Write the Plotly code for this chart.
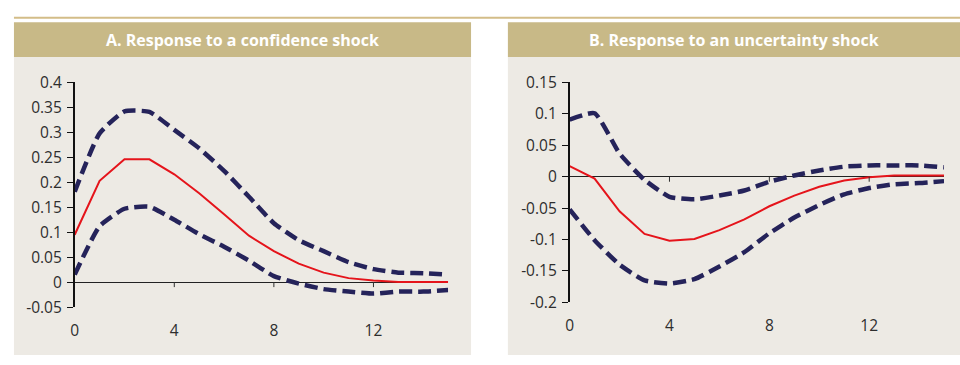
import plotly.graph_objects as go

# Quarters after the shock
horizon = list(range(16))

# Panel A: response to a confidence shock
conf_median = [0.095, 0.203, 0.246, 0.246, 0.216, 0.178, 0.136, 0.093, 0.062, 0.037,
               0.019, 0.008, 0.003, 0.0, 0.0, 0.0]
conf_upper = [0.181, 0.298, 0.342, 0.341, 0.305, 0.268, 0.223, 0.171, 0.118, 0.084,
              0.062, 0.040, 0.026, 0.019, 0.018, 0.015]
conf_lower = [0.015, 0.112, 0.147, 0.151, 0.125, 0.096, 0.071, 0.043, 0.012, -0.003,
              -0.014, -0.019, -0.023, -0.019, -0.019, -0.016]

# Panel B: response to an uncertainty shock
unc_median = [0.017, -0.003, -0.055, -0.091, -0.102, -0.099, -0.085, -0.068, -0.047, -0.030,
              -0.016, -0.006, -0.001, 0.002, 0.002, 0.002]
unc_upper = [0.091, 0.101, 0.037, -0.005, -0.032, -0.036, -0.030, -0.022, -0.008, 0.002,
             0.010, 0.016, 0.018, 0.018, 0.018, 0.015]
unc_lower = [-0.052, -0.101, -0.140, -0.165, -0.170, -0.163, -0.143, -0.120, -0.090, -0.065,
             -0.045, -0.028, -0.018, -0.012, -0.010, -0.007]

titles = ["A. Response to a confidence shock", "B. Response to an uncertainty shock"]
x_ticks = [0, 4, 8, 12]
a_ticks = [-0.05, 0, 0.05, 0.1, 0.15, 0.2, 0.25, 0.3, 0.35, 0.4]
a_tick_text = ["-0.05", "0", "0.05", "0.1", "0.15", "0.2", "0.25", "0.3", "0.35", "0.4"]
b_ticks = [-0.2, -0.15, -0.1, -0.05, 0, 0.05, 0.1, 0.15]
b_tick_text = ["-0.2", "-0.15", "-0.1", "-0.05", "0", "0.05", "0.1", "0.15"]

W, H = 960, 365
RED = "#E5141B"
NAVY = "#25235A"
BG = "#EDEAE4"
HEAD = "#C8B987"
GOLD = "#D3BD88"
TXT = "#2E2E2E"
FONT = "Open Sans"


def px_x(v):
    return v / W


def px_y(v):
    return 1 - v / H


fig = go.Figure()

panels = [
    dict(xa="x", ya="y", med=conf_median, up=conf_upper, lo=conf_lower),
    dict(xa="x2", ya="y2", med=unc_median, up=unc_upper, lo=unc_lower),
]
for p in panels:
    for band in (p["up"], p["lo"]):
        fig.add_trace(go.Scatter(
            x=horizon, y=band, xaxis=p["xa"], yaxis=p["ya"], mode="lines",
            line=dict(color=NAVY, width=4.5, dash="13px,6px", shape="spline", smoothing=0.5),
            hoverinfo="skip", showlegend=False, cliponaxis=False,
        ))
    fig.add_trace(go.Scatter(
        x=horizon, y=p["med"], xaxis=p["xa"], yaxis=p["ya"], mode="lines",
        line=dict(color=RED, width=2),
        hoverinfo="skip", showlegend=False, cliponaxis=False,
    ))

shapes = []
# thin gold rule across the top
shapes.append(dict(type="line", xref="paper", yref="paper",
                   x0=px_x(10), x1=1, y0=px_y(6), y1=px_y(6),
                   line=dict(color=GOLD, width=2), layer="below"))
# panel backgrounds and header bands
for left, right in [(10, 469), (506, 960)]:
    shapes.append(dict(type="rect", xref="paper", yref="paper",
                       x0=px_x(left), x1=px_x(right), y0=0, y1=px_y(48),
                       fillcolor=BG, line=dict(width=0), layer="below"))
    shapes.append(dict(type="rect", xref="paper", yref="paper",
                       x0=px_x(left), x1=px_x(right), y0=px_y(48), y1=px_y(11),
                       fillcolor=HEAD, line=dict(width=0), layer="below"))

# tick marks hanging below the zero line
for xa, ya in [("x", "y"), ("x2", "y2")]:
    for t in x_ticks[1:]:
        shapes.append(dict(type="line", xref=xa, yref=ya, x0=t, x1=t,
                           ysizemode="pixel", yanchor=0, y0=0, y1=-5,
                           line=dict(color=TXT, width=1)))

annotations = []
for (left, right), title in zip([(10, 469), (506, 960)], titles):
    annotations.append(dict(
        text=f"<b>{title}</b>", xref="paper", yref="paper",
        x=px_x((left + right) / 2), y=px_y(30), xanchor="center", yanchor="middle",
        showarrow=False, font=dict(family=FONT, size=16, color="white"),
    ))

axis_common = dict(showgrid=False, color=TXT,
                   tickfont=dict(family=FONT, size=15.5, color=TXT))

fig.update_layout(
    width=W, height=H,
    margin=dict(l=0, r=0, t=0, b=0),
    paper_bgcolor="white", plot_bgcolor="rgba(0,0,0,0)",
    shapes=shapes, annotations=annotations,
    xaxis=dict(domain=[px_x(71), px_x(446)], range=[0, 15], anchor="y",
               tickvals=x_ticks, ticks="", showline=False, zeroline=False,
               ticklabelstandoff=12, **axis_common),
    yaxis=dict(domain=[px_y(314), px_y(75)], range=[-0.05, 0.4], anchor="x",
               tickvals=a_ticks, ticktext=a_tick_text, ticks="outside", ticklen=6,
               tickcolor="#111111", showline=True, linecolor="#111111", linewidth=1.5,
               ticklabelstandoff=2,
               zeroline=True, zerolinecolor="#222222", zerolinewidth=1.2, **axis_common),
    xaxis2=dict(domain=[px_x(568), px_x(944)], range=[0, 15], anchor="y2",
                tickvals=x_ticks, ticks="", showline=False, zeroline=False,
                ticklabelstandoff=12, **axis_common),
    yaxis2=dict(domain=[px_y(309), px_y(75)], range=[-0.2, 0.15], anchor="x2",
                tickvals=b_ticks, ticktext=b_tick_text, ticks="outside", ticklen=6,
                tickcolor="#111111", showline=True, linecolor="#111111", linewidth=1.5,
                ticklabelstandoff=2,
                zeroline=True, zerolinecolor="#222222", zerolinewidth=1.2, **axis_common),
)

fig.write_html("out.html")
